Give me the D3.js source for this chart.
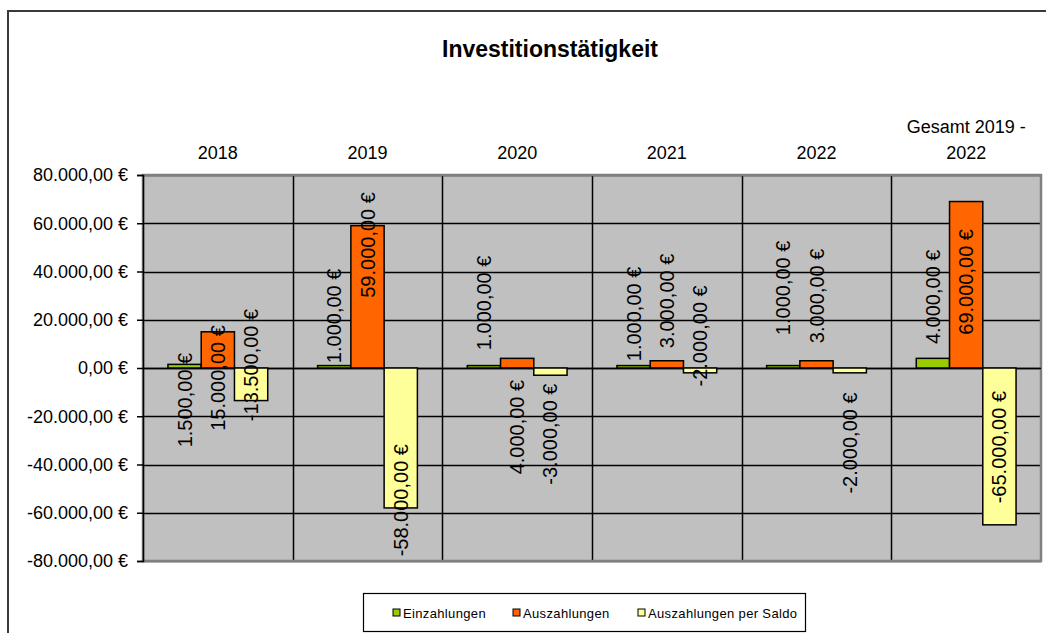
<!DOCTYPE html>
<html>
<head>
<meta charset="utf-8">
<script src="https://cdn.jsdelivr.net/npm/d3@7.9.0/dist/d3.min.js"></script>
<style>
  body { margin: 0; background: #fff; }
  svg { display: block; font-family: "Liberation Sans", Arial, sans-serif; }
</style>
</head>
<body>
<svg id="chart" width="1046" height="633"></svg>
<script>
// categories and series
const categories = ['2018', '2019', '2020', '2021', '2022', 'Gesamt 2019 - 2022'];
const seriesNames = ['Einzahlungen', 'Auszahlungen', 'Auszahlungen per Saldo'];
const einzahlungen = [1500, 1000, 1000, 1000, 1000, 4000];
const auszahlungen = [15000, 59000, 4000, 3000, 3000, 69000];
const saldo = [-13500, -58000, -3000, -2000, -2000, -65000];
const yTicks = [-80000, -60000, -40000, -20000, 0, 20000, 40000, 60000, 80000];

// where the (hand placed) data labels sit, in euro on the value axis
const labelEinz = [-13300, 21600, 27000, 22400, 33200, 29500];
const labelAusz = [-4150, 51000, -24500, 27800, 29900, 35700];
const labelSaldo = [1250, -54800, -27400, 13300, -31100, -32800];

const colors = ['#99cc00', '#ff6600', '#ffff99'];

const seriesValues = [einzahlungen, auszahlungen, saldo];
const labelValues = [labelEinz, labelAusz, labelSaldo];

const de = d3.formatLocale({
  decimal: ',', thousands: '.', grouping: [3], currency: ['', ' €'], minus: '-'
});
const fmt = (v) => de.format(',.2f')(v) + ' €';

const svg = d3.select('#chart');

// outer chart frame
svg.append('rect')
  .attr('x', 8).attr('y', 11)
  .attr('width', 1060).attr('height', 640)
  .attr('fill', 'none')
  .attr('stroke', '#3a3a3a')
  .attr('stroke-width', 2);

// title
svg.append('text')
  .attr('x', 550).attr('y', 57)
  .attr('text-anchor', 'middle')
  .attr('font-size', 23)
  .attr('font-weight', 'bold')
  .text('Investitionstätigkeit');

const plot = { left: 143, right: 1041, top: 175, bottom: 561 };

const x0 = d3.scaleBand()
  .domain(categories)
  .range([plot.left, plot.right]);

const x1 = d3.scaleBand()
  .domain(seriesNames)
  .range([0, x0.bandwidth()])
  .paddingInner(0)
  .paddingOuter(0.75);

const y = d3.scaleLinear()
  .domain([-80000, 80000])
  .range([plot.bottom, plot.top]);

// plot background
svg.append('rect')
  .attr('x', plot.left).attr('y', plot.top)
  .attr('width', plot.right - plot.left)
  .attr('height', plot.bottom - plot.top)
  .attr('fill', '#c0c0c0');

// horizontal gridlines
svg.append('g')
  .selectAll('line')
  .data(yTicks)
  .join('line')
  .attr('x1', plot.left).attr('x2', plot.right)
  .attr('y1', (d) => Math.round(y(d)) + 0.5)
  .attr('y2', (d) => Math.round(y(d)) + 0.5)
  .attr('stroke', '#000')
  .attr('stroke-width', 1.5);

// vertical category separators
svg.append('g')
  .selectAll('line')
  .data(categories.slice(1))
  .join('line')
  .attr('x1', (d) => Math.round(x0(d)) + 0.5)
  .attr('x2', (d) => Math.round(x0(d)) + 0.5)
  .attr('y1', plot.top).attr('y2', plot.bottom)
  .attr('stroke', '#000')
  .attr('stroke-width', 1.5);

// plot border (grey)
svg.append('rect')
  .attr('x', plot.left).attr('y', plot.top)
  .attr('width', plot.right - plot.left)
  .attr('height', plot.bottom - plot.top)
  .attr('fill', 'none')
  .attr('stroke', '#808080')
  .attr('stroke-width', 2.5);

// y axis
const yAxis = d3.axisLeft(y)
  .tickValues(yTicks)
  .tickSize(6)
  .tickPadding(9)
  .tickFormat(fmt);

const yg = svg.append('g')
  .attr('transform', `translate(${plot.left},0)`)
  .call(yAxis);
yg.select('.domain').attr('stroke', '#000').attr('stroke-width', 1.5);
yg.selectAll('.tick line').attr('stroke', '#000').attr('stroke-width', 1.5);
yg.selectAll('.tick text')
  .attr('font-size', 18)
  .attr('font-family', '"Liberation Sans", Arial, sans-serif')
  .attr('fill', '#000');

// zero line
svg.append('line')
  .attr('x1', plot.left).attr('x2', plot.right)
  .attr('y1', Math.round(y(0)) + 0.5).attr('y2', Math.round(y(0)) + 0.5)
  .attr('stroke', '#000')
  .attr('stroke-width', 1.5);

// category labels on top
const catLabels = svg.append('g')
  .selectAll('text')
  .data(categories)
  .join('text')
  .attr('x', (d) => x0(d) + x0.bandwidth() / 2)
  .attr('y', 159)
  .attr('text-anchor', 'middle')
  .attr('font-size', 18);

catLabels.each(function (d) {
  const t = d3.select(this);
  if (d.startsWith('Gesamt')) {
    t.append('tspan').attr('x', x0(d) + x0.bandwidth() / 2).attr('dy', -26).text('Gesamt 2019 -');
    t.append('tspan').attr('x', x0(d) + x0.bandwidth() / 2).attr('dy', 26).text('2022');
  } else {
    t.text(d);
  }
});

// bars
const rows = [];
categories.forEach((c, i) => {
  seriesNames.forEach((s, j) => {
    rows.push({ cat: c, series: s, value: seriesValues[j][i], labelAt: labelValues[j][i], color: colors[j] });
  });
});

svg.append('g')
  .selectAll('rect')
  .data(rows)
  .join('rect')
  .attr('x', (d) => x0(d.cat) + x1(d.series))
  .attr('y', (d) => y(Math.max(0, d.value)))
  .attr('width', x1.bandwidth())
  .attr('height', (d) => Math.abs(y(d.value) - y(0)))
  .attr('fill', (d) => d.color)
  .attr('stroke', '#000')
  .attr('stroke-width', 1.5);

// data labels, rotated
svg.append('g')
  .selectAll('text')
  .data(rows)
  .join('text')
  .attr('transform', (d) => {
    const cx = x0(d.cat) + x1(d.series) + x1.bandwidth() / 2;
    const cy = y(d.labelAt);
    return `translate(${cx},${cy}) rotate(-90)`;
  })
  .attr('text-anchor', 'middle')
  .attr('dominant-baseline', 'central')
  .attr('font-size', 20)
  .text((d) => fmt(d.value));

// legend
const legend = svg.append('g');
legend.append('rect')
  .attr('x', 363.5).attr('y', 593.5)
  .attr('width', 442).attr('height', 38)
  .attr('fill', '#fff')
  .attr('stroke', '#000')
  .attr('stroke-width', 1.2);

const legendX = [393, 513, 638];
seriesNames.forEach((s, j) => {
  legend.append('rect')
    .attr('x', legendX[j]).attr('y', 609)
    .attr('width', 7).attr('height', 7)
    .attr('fill', colors[j])
    .attr('stroke', '#000')
    .attr('stroke-width', 1);
  legend.append('text')
    .attr('x', legendX[j] + 10).attr('y', 618)
    .attr('font-size', 13)
    .attr('letter-spacing', 0.35)
    .text(s);
});
</script>
</body>
</html>
